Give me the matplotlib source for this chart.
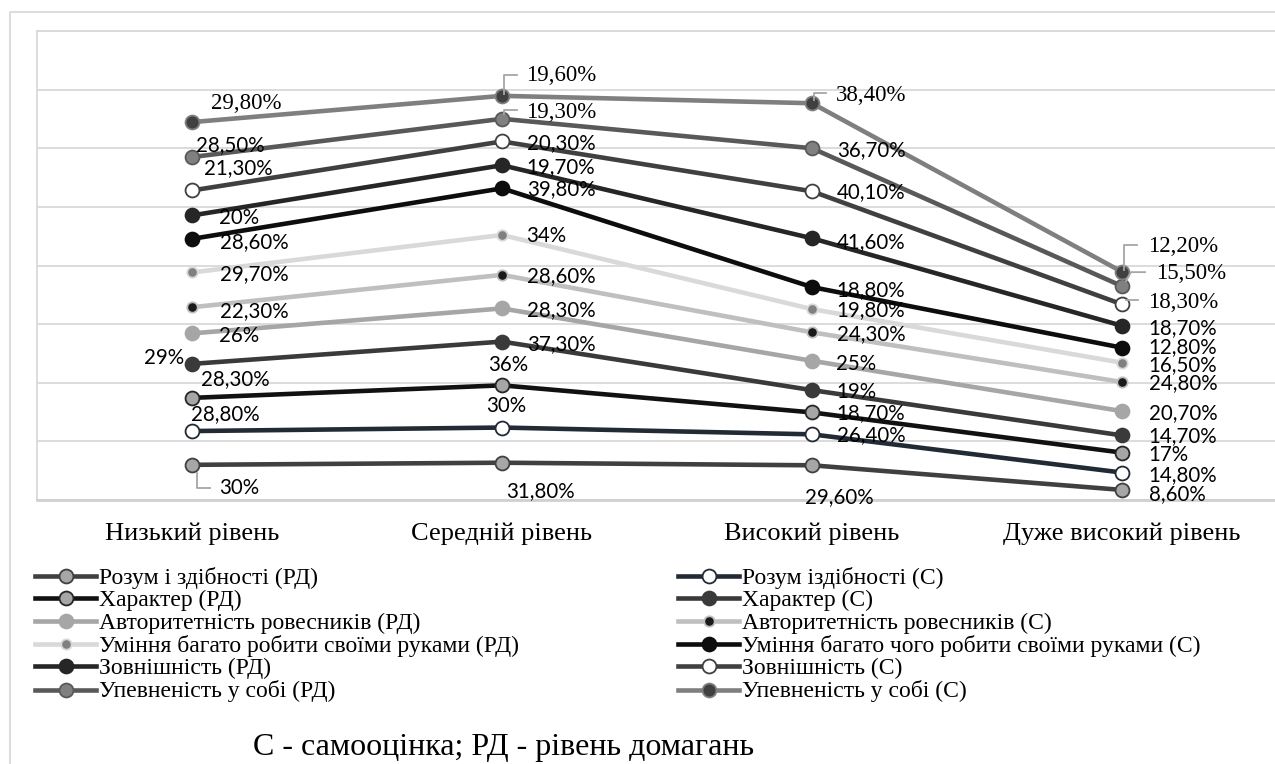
import matplotlib
matplotlib.use("Agg")
import matplotlib.pyplot as plt
import numpy as np
from matplotlib.lines import Line2D

W, H = 1275, 764

categories = ["Низький рівень", "Середній рівень", "Високий рівень", "Дуже високий рівень"]

series_names = [
    "Розум і здібності (РД)",
    "Розум іздібності (С)",
    "Характер (РД)",
    "Характер (С)",
    "Авторитетність ровесників (РД)",
    "Авторитетність ровесників (С)",
    "Уміння багато робити своїми руками (РД)",
    "Уміння багато чого робити своїми руками (С)",
    "Зовнішність (РД)",
    "Зовнішність (С)",
    "Упевненість у собі (РД)",
    "Упевненість у собі (С)",
]

rozum_rd = [30.0, 31.8, 29.6, 8.6]
rozum_s = [28.8, 30.0, 26.4, 14.8]
kharakter_rd = [28.3, 36.0, 18.7, 17.0]
kharakter_s = [29.0, 37.3, 19.0, 14.7]
avtor_rd = [26.0, 28.3, 25.0, 20.7]
avtor_s = [22.3, 28.6, 24.3, 24.8]
uminnia_rd = [29.7, 34.0, 19.8, 16.5]
uminnia_s = [28.6, 39.8, 18.8, 12.8]
zovn_rd = [20.0, 19.7, 41.6, 18.7]
zovn_s = [21.3, 20.3, 40.1, 18.3]
upevn_rd = [28.5, 19.3, 36.7, 15.5]
upevn_s = [29.8, 19.6, 38.4, 12.2]

values = [rozum_rd, rozum_s, kharakter_rd, kharakter_s, avtor_rd, avtor_s,
          uminnia_rd, uminnia_s, zovn_rd, zovn_s, upevn_rd, upevn_s]

# line colour, marker face, marker edge, marker size
styles = [
    ("#404040", "#a6a6a6", "#404040", 10),
    ("#222a35", "#ffffff", "#222a35", 10),
    ("#111111", "#a6a6a6", "#262626", 10),
    ("#3a3a3a", "#3a3a3a", "#3a3a3a", 10),
    ("#a6a6a6", "#a6a6a6", "#a6a6a6", 10),
    ("#bfbfbf", "#1a1a1a", "#bfbfbf", 7.5),
    ("#d9d9d9", "#808080", "#d9d9d9", 7.5),
    ("#0d0d0d", "#0d0d0d", "#0d0d0d", 10),
    ("#262626", "#262626", "#262626", 10),
    ("#404040", "#ffffff", "#404040", 10),
    ("#595959", "#808080", "#595959", 10),
    ("#7f7f7f", "#404040", "#7f7f7f", 10),
]

# label offsets in pixels from each point, per series, per category
label_offsets = [
    [(47, -23), (38, -28), (27, -32), (55, -4)],
    [(33, 17), (4, 22), (59, -1), (61, -3)],
    [(43, 19), (6, 20), (59, -1), (46, -2)],
    [(-28, 6), (59, -2), (44, -2), (61, -1)],
    [(47, -3), (59, -2), (44, -3), (61, -2)],
    [(62, -4), (59, -1), (59, -2), (61, -1)],
    [(62, -2), (44, -1), (59, -1), (61, -2)],
    [(62, -3), (59, -1), (59, -3), (61, 1)],
    [(47, -3), (59, -2), (59, -4), (61, -2)],
    [(46, 22), (59, -2), (59, -1), (61, 2)],
    [(38, 12), (59, 6), (59, -2), (69, 13)],
    [(54, 19), (59, 20), (59, 8), (61, 25)],
]

# leader lines (series, category, vertices in pixel offsets)
leaders = [
    (0, 0, [(5, -8), (5, -23), (18, -23)]),
    (10, 1, [(2, 5), (2, 9), (15, 9)]),
    (11, 1, [(2, 2), (2, 21), (15, 21)]),
    (11, 2, [(2, 3), (2, 10), (14, 10)]),
    (11, 3, [(2, 2), (2, 27), (15, 27)]),
    (10, 3, [(4, 5), (9, 14), (23, 14)]),
    (9, 3, [(4, 4), (16, 4)]),
]
serif_labels = {(11, 0), (11, 1), (11, 2), (11, 3), (10, 1), (10, 3), (9, 3)}

SANS = ["Lato", "DejaVu Sans"]
SERIF = ["Liberation Serif", "DejaVu Serif"]


def fmt(v):
    if abs(v - round(v)) < 1e-9:
        return "%d%%" % round(v)
    return ("%.2f" % v).replace(".", ",") + "%"


fig = plt.figure(figsize=(W / 100, H / 100), dpi=100)
ax = fig.add_axes([37 / W, 1 - 500 / H, (1277 - 37) / W, (500 - 31) / H])
ax.set_xlim(-0.5, 3.5)
ax.set_ylim(0, 400)

x = np.arange(len(categories))
cum = np.cumsum(np.array(values), axis=0)

for k, (row, c) in enumerate(zip(cum, styles)):
    lc, mf, me, ms = c
    ax.plot(x, row, color=lc, lw=3.3, marker="o", ms=ms, mfc=mf, mec=me,
            mew=1.3, zorder=3 + k * 0.01, solid_capstyle="butt")

for k in range(len(values)):
    for i in range(len(categories)):
        dx, dy = label_offsets[k][i]
        serif = (k, i) in serif_labels
        ax.annotate(fmt(values[k][i]), xy=(x[i], cum[k][i]), xytext=(dx, dy),
                    textcoords="offset pixels", ha="center", va="center",
                    fontsize=16.5 if serif else 14.8,
                    family=SERIF if serif else SANS, color="#000000",
                    zorder=10)

fig.canvas.draw()
for k, i, pts in leaders:
    px, py = ax.transData.transform((x[i], cum[k][i]))
    xs = [px + p[0] for p in pts]
    ys = [py + p[1] for p in pts]
    fig.add_artist(Line2D(xs, ys, transform=None, color="#a6a6a6", lw=1.3,
                          zorder=9))

ax.set_yticks(np.arange(0, 401, 50))
ax.yaxis.set_tick_params(length=0, labelleft=False)
ax.grid(axis="y", color="#d9d9d9", lw=1.3)
ax.set_axisbelow(True)
ax.set_xticks(x)
ax.set_xticklabels(categories, family=SERIF, fontsize=19)
ax.tick_params(axis="x", length=0, pad=16)
for s in ["top", "left", "right"]:
    ax.spines[s].set_color("#d9d9d9")
    ax.spines[s].set_linewidth(1.3)
ax.spines["bottom"].set_color("#d0d0d0")
ax.spines["bottom"].set_linewidth(2)

# outer chart frame
fig.add_artist(Line2D([10 / W, 10 / W, 1.01], [0, 1 - 12 / H, 1 - 12 / H],
                      transform=fig.transFigure, color="#d9d9d9", lw=1.3))


def handle(k):
    lc, mf, me, ms = styles[k]
    return Line2D([], [], color=lc, lw=3.3, marker="o", ms=ms, mfc=mf,
                  mec=me, mew=1.3)


leg_kw = dict(frameon=False, loc="upper left", borderpad=0, borderaxespad=0,
              handlelength=2.6, handletextpad=0.12, labelspacing=0.05,
              handleheight=0.6,
              prop={"family": SERIF, "size": 17})
left_ids = [0, 2, 4, 6, 8, 10]
right_ids = [1, 3, 5, 7, 9, 11]
leg1 = fig.legend([handle(k) for k in left_ids],
                  [series_names[k] for k in left_ids],
                  bbox_to_anchor=(35 / W, 1 - 567 / H), **leg_kw)
leg2 = fig.legend([handle(k) for k in right_ids],
                  [series_names[k] for k in right_ids],
                  bbox_to_anchor=(678 / W, 1 - 567 / H), **leg_kw)

fig.text(504 / W, 1 - 748 / H, "С - самооцінка; РД - рівень домагань",
         ha="center", va="center", family=SERIF, fontsize=23)

fig.savefig("out.png", dpi=100)
